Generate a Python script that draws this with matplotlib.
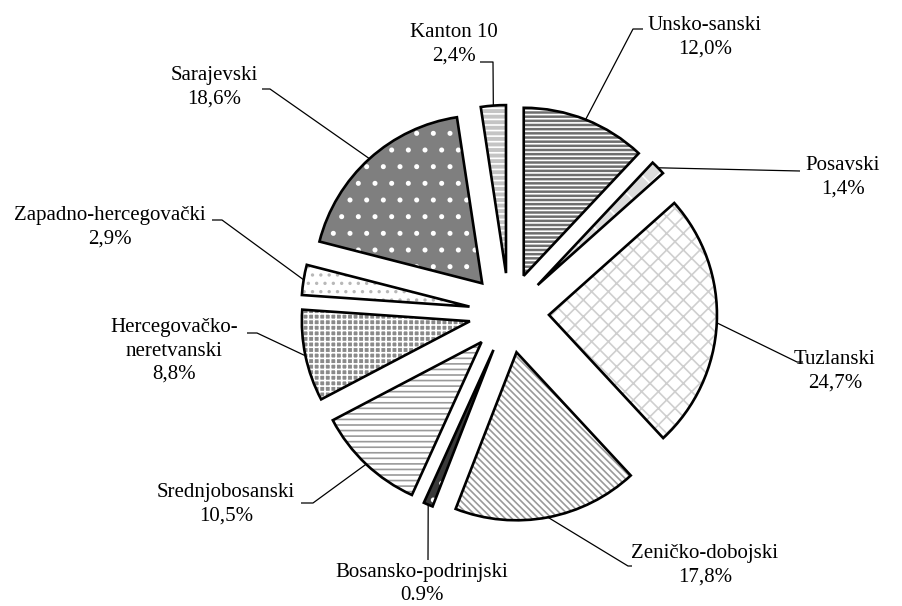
import numpy as np
import matplotlib
matplotlib.use("Agg")
import matplotlib.pyplot as plt

# kantoni i udio (%)
kantoni = ["Unsko-sanski", "Posavski", "Tuzlanski", "Zeničko-dobojski",
           "Bosansko-podrinjski", "Srednjobosanski", "Hercegovačko-\nneretvanski",
           "Zapadno-hercegovački", "Sarajevski", "Kanton 10"]
udio = [12.0, 1.4, 24.7, 17.8, 0.9, 10.5, 8.8, 2.9, 18.6, 2.4]
udio_txt = ["12,0%", "1,4%", "24,7%", "17,8%", "0.9%", "10,5%", "8,8%",
            "2,9%", "18,6%", "2,4%"]

# fill, hatch pattern, hatch colour per wedge
face = ["#6e6e6e", "#dcdcdc", "white", "white", "#3a3a3a",
        "white", "#8a8a8a", "white", "#7f7f7f", "#c4c4c4"]
hatches = ["----", "x", "xx", "\\" * 5, ".", "---", "+++", "..", ".", "---"]
hcol = ["white", "white", "#cfcfcf", "#9a9a9a", "white",
        "#9a9a9a", "white", "#b8b8b8", "white", "white"]

W, H = 903, 606
cx, cy = 509, 313      # pie centre in pixels (from top)
R = 168
EXPL = 40

# label centres and leader elbows (pixels from top)
lab_xy = [(705, 37), (843, 177), (835, 371), (705, 565), (422, 584),
          (226, 504), (174, 351), (110, 227), (214, 87), (454, 44)]
leader = [[(633, 29), (643, 29)], [(800, 171)], [(797, 362), (803, 362)],
          [(628, 566), (632, 566)], [(428, 560)], [(313, 503), (301, 503)],
          [(257, 333), (247, 333)], [(222, 220), (212, 220)],
          [(270, 89), (262, 89)], [(493, 62), (480, 62)]]


def fy(y):
    return H - y


plt.rcParams["font.family"] = ["Liberation Serif", "DejaVu Serif"]
plt.rcParams["hatch.linewidth"] = 1.2

fig = plt.figure(figsize=(W / 100, H / 100), dpi=100)
ax = fig.add_axes([0, 0, 1, 1])

# hatched fill first, then the black outlines on top
wedges, _ = ax.pie(udio, explode=[EXPL] * len(udio), startangle=90,
                   counterclock=False, radius=R, center=(cx, fy(cy)),
                   colors=face, hatch=hatches,
                   wedgeprops=dict(linewidth=0))
for w, c in zip(wedges, hcol):
    w.set_edgecolor(c)
    w.set_linewidth(0)
ax.pie(udio, explode=[EXPL] * len(udio), startangle=90, counterclock=False,
       radius=R, center=(cx, fy(cy)),
       wedgeprops=dict(fill=False, edgecolor="black", linewidth=1.9))

# labels with leader lines
ang = 90 - (np.cumsum(udio) - np.array(udio) / 2) * 3.6
for i, a in enumerate(np.radians(ang)):
    px = cx + (R + EXPL) * np.cos(a)
    py = cy - (R + EXPL) * np.sin(a)
    pts = [(px, py)] + leader[i]
    ax.plot([p[0] for p in pts], [fy(p[1]) for p in pts], color="black",
            linewidth=0.9, solid_capstyle="butt")
    x, y = lab_xy[i]
    ax.text(x, fy(y), kantoni[i] + "\n" + udio_txt[i], ha="center",
            va="center", fontsize=15, linespacing=1.3)

ax.set_xlim(0, W)
ax.set_ylim(0, H)
ax.set_aspect("equal")
ax.axis("off")

plt.savefig("out.png", dpi=100)
plt.close(fig)
